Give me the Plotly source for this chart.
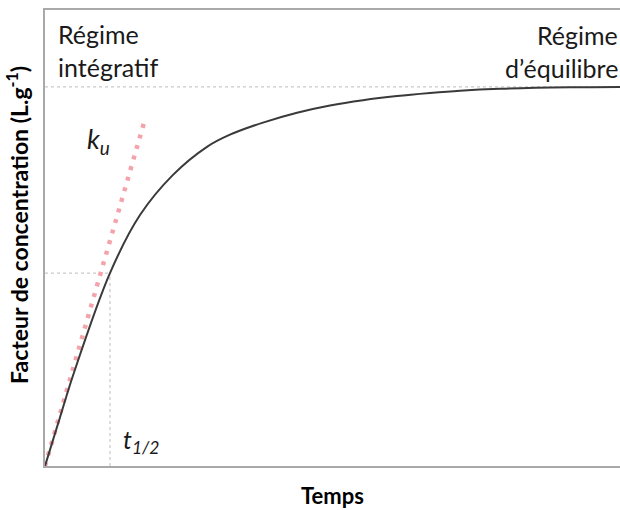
import plotly.graph_objects as go

# ---- data ----
time = [0, 0.26, 0.49, 1.13, 1.652, 2.226, 2.817, 3.217, 3.791, 4.383, 4.957, 5.530, 6.122, 6.696, 7.217, 7.913, 9.130, 10.0]
conc = [0, 0.128, 0.240, 0.509, 0.662, 0.768, 0.842, 0.874, 0.906, 0.932, 0.951, 0.965, 0.976, 0.984, 0.990, 0.995, 0.999, 1.0]

tangent_time = [0, 1.74]
tangent_conc = [0, 0.915]

t_half = 1.13
c_half = 0.509
c_plateau = 1.0
x_max = 10.0
y_max = 1.203

W, H = 620, 510
ML, MR, MT, MB = 45, 0, 10, 44
PW, PH = W - ML - MR, H - MT - MB


def px(x):
    return (x - ML) / PW


def py(y):
    return (H - MB - y) / PH


fig = go.Figure()

guide = dict(color="#c9c9c9", width=1.2, dash="dot")
fig.add_trace(go.Scatter(x=[0, x_max], y=[c_plateau, c_plateau], mode="lines", line=guide, hoverinfo="skip"))
fig.add_trace(go.Scatter(x=[0, t_half], y=[c_half, c_half], mode="lines", line=guide, hoverinfo="skip"))
fig.add_trace(go.Scatter(x=[t_half, t_half], y=[0, c_half], mode="lines", line=guide, hoverinfo="skip"))

fig.add_trace(go.Scatter(x=tangent_time, y=tangent_conc, mode="lines",
                         line=dict(color="#f5a3ab", width=4.5, dash="4px,7px"), hoverinfo="skip"))

fig.add_trace(go.Scatter(x=time, y=conc, mode="lines", line_shape="spline",
                         line=dict(color="#3a3a3a", width=2, smoothing=1.0), hoverinfo="skip"))

txt_font = dict(family="Lato", size=25, color="#1a1a1a")
ann = []
ann.append(dict(text="Régime", x=px(56), y=py(34), xanchor="left", yanchor="middle", font=txt_font))
ann.append(dict(text="intégratif", x=px(56), y=py(67), xanchor="left", yanchor="middle", font=txt_font))
ann.append(dict(text="Régime", x=px(620), y=py(35), xanchor="right", yanchor="middle", font=txt_font))
ann.append(dict(text="d’équilibre", x=px(620), y=py(68), xanchor="right", yanchor="middle", font=txt_font))
ital = dict(family="Lato", size=27, color="#1a1a1a")
ann.append(dict(text="<i>k<sub>u</sub></i>", x=px(85), y=py(140), xanchor="left", yanchor="middle", font=ital))
ann.append(dict(text="<i>t<sub>1/2</sub></i>", x=px(121), y=py(441), xanchor="left", yanchor="middle",
                font=dict(family="Lato", size=25, color="#1a1a1a")))
ann.append(dict(text="<b>Facteur de concentration (L.g<sup>-1</sup>)</b>", x=px(18), y=py(225),
                xanchor="center", yanchor="middle", textangle=-90,
                font=dict(family="Lato", size=23, color="#000000")))
for a in ann:
    a.update(xref="paper", yref="paper", showarrow=False)

fig.update_layout(
    width=W, height=H,
    margin=dict(l=ML, r=MR, t=MT, b=MB),
    paper_bgcolor="white", plot_bgcolor="white",
    showlegend=False,
    annotations=ann,
    xaxis=dict(range=[0, x_max], showgrid=False, zeroline=False, showticklabels=False, ticks="",
               showline=True, mirror=True, linecolor="#a9a9a9", linewidth=2,
               title=dict(text="<b>Temps</b>", standoff=22,
                          font=dict(family="Lato", size=22, color="#000000"))),
    yaxis=dict(range=[0, y_max], showgrid=False, zeroline=False, showticklabels=False, ticks="",
               showline=True, mirror=False, linecolor="#a9a9a9", linewidth=2),
)

fig.write_html("out.html", config={"displayModeBar": False},
               post_script="document.body.style.margin='0';document.body.style.overflow='hidden';")
